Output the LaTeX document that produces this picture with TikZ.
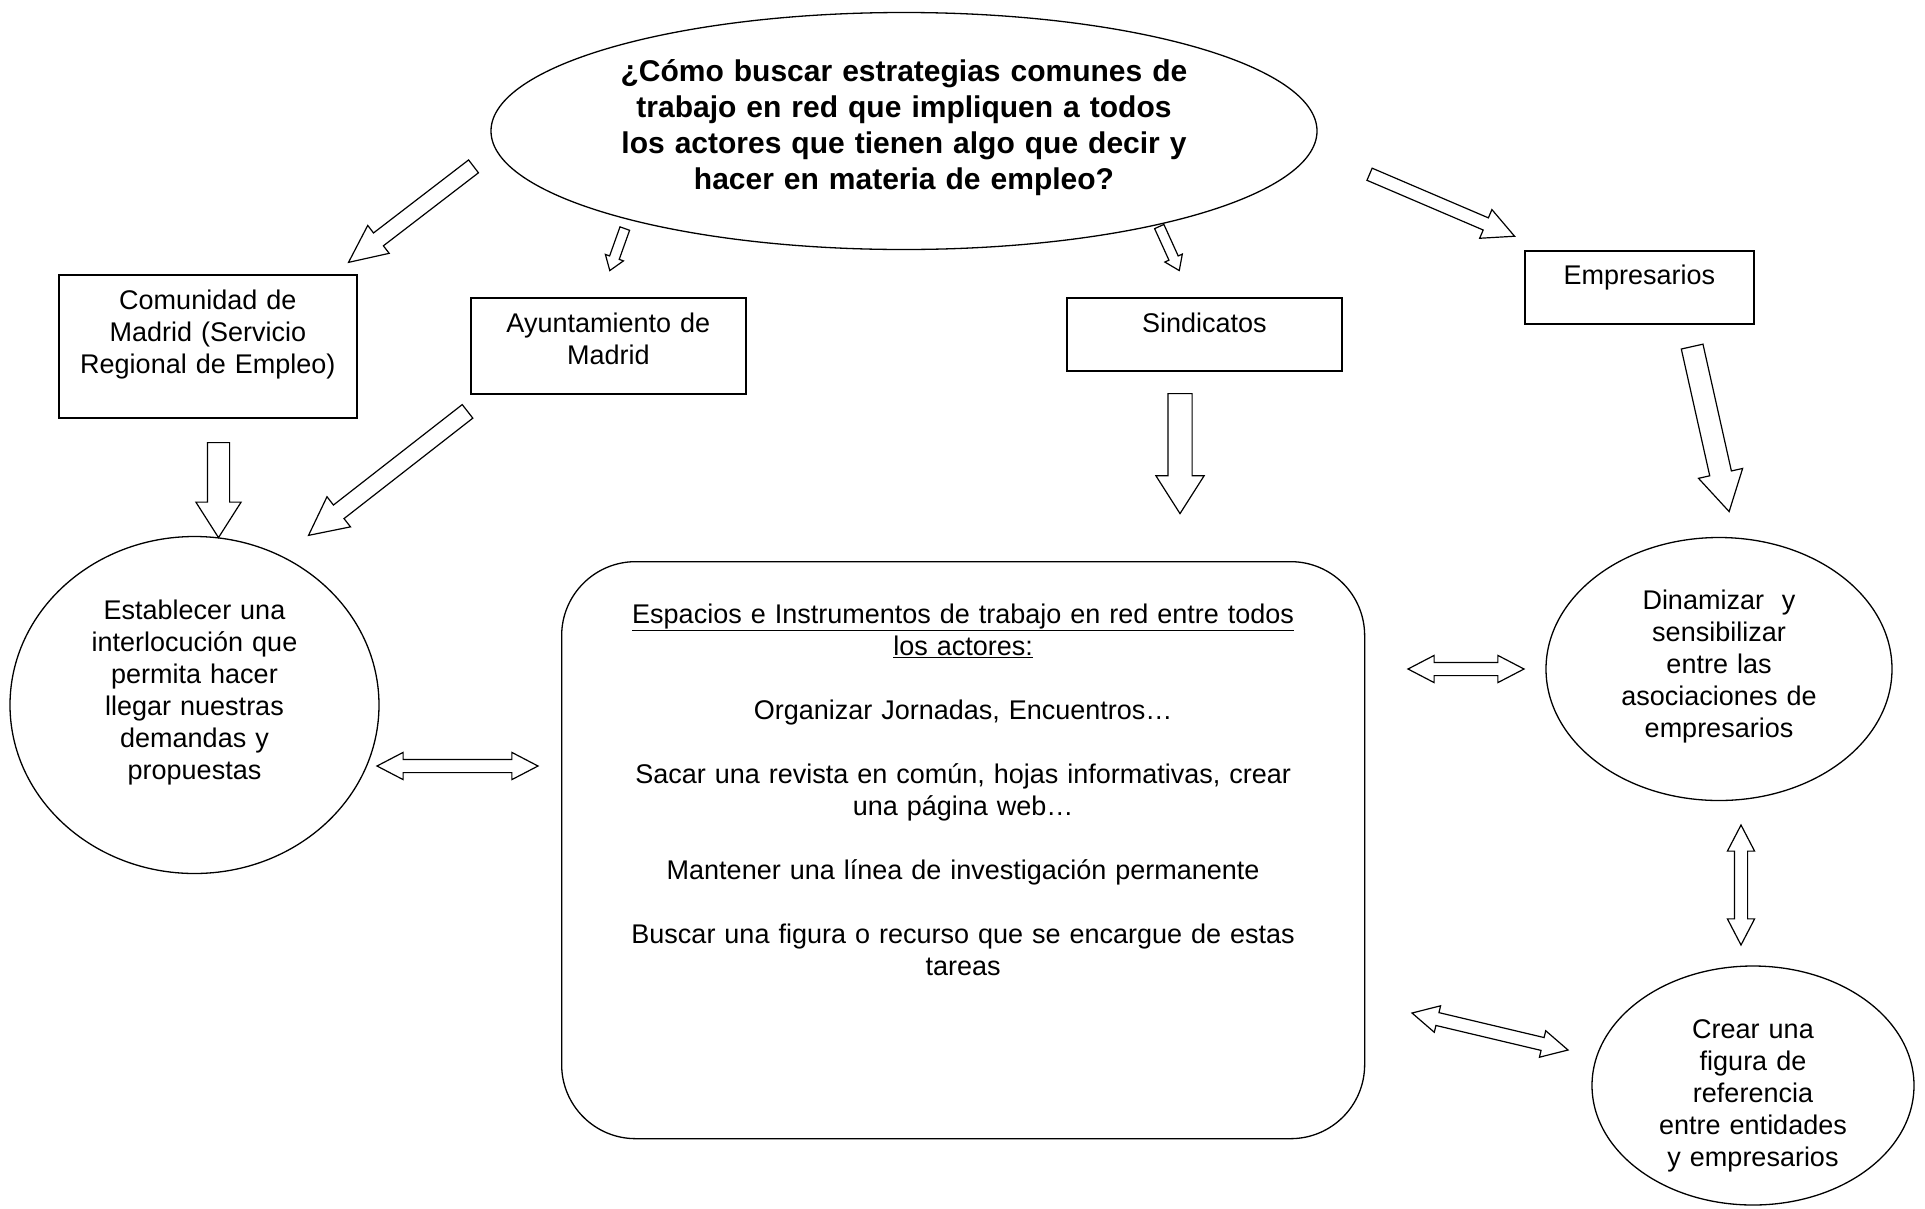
\documentclass[tikz,border=0pt]{standalone}
\usepackage{fontspec}
\setmainfont{Liberation Sans}
\usetikzlibrary{shapes.geometric,shapes.arrows,calc}

\newcommand{\texto}{\fontsize{27}{32}\selectfont}
\newcommand{\titulo}{\fontsize{30}{36}\selectfont\bfseries}

\tikzstyle{mapa}=[
    x=1pt, y=-1pt,
    actor/.style={rectangle, draw, line width=1.6pt, anchor=north west, inner sep=0pt, align=center, font=\texto},
    idea/.style={ellipse, draw, line width=1.3pt, inner sep=0pt, align=center, font=\texto},
    espacio/.style={actor, rounded corners=74pt, line width=1.3pt},
    flecha/.style 2 args={single arrow, draw, line width=1.2pt, inner xsep=0pt, inner ysep=##1/2,
        minimum width=##2, single arrow head extend={(##2-##1)/2}, single arrow tip angle=60},
    doble/.style={double arrow, draw, line width=1.2pt, inner xsep=0pt, inner ysep=6pt,
        minimum width=26pt, double arrow head extend=7pt, double arrow tip angle=55},
]

% block arrow from tail to tip
\newcommand{\flecha}[4][]{
    \path let \p1=(#3), \p2=(#4) in
        node[#1, anchor=tail, rotate={atan2(\y2-\y1,\x2-\x1)},
             minimum height={veclen(\x2-\x1,\y2-\y1)}] (#2) at (\p1) {};
}
% block arrow with two heads
\newcommand{\doble}[4][]{
    \path let \p1=(#3), \p2=(#4) in
        node[doble, #1, rotate={atan2(\y2-\y1,\x2-\x1)},
             minimum height={veclen(\x2-\x1,\y2-\y1)}] (#2) at ($(\p1)!0.5!(\p2)$) {};
}

\begin{document}
\begin{tikzpicture}[mapa]
    \useasboundingbox (0,0) rectangle (1925,1208);

    \node[idea, font=\titulo, minimum width=826pt, minimum height=237pt, text width=570pt, text height=22pt, text depth=122pt] (pregunta) at (904,131)
        {¿Cómo buscar estrategias comunes de\\trabajo en red que impliquen a todos\\los actores que tienen algo que decir y\\hacer en materia de empleo?};

    \node[actor, text width=298pt, text height=35pt, text depth=108pt] (comunidad) at (58,274) {Comunidad de\\Madrid (Servicio\\Regional de Empleo)};
    \node[actor, text width=275pt, text height=35pt, text depth=61pt] (ayuntamiento) at (470,297) {Ayuntamiento de\\Madrid};
    \node[actor, text width=275pt, text height=35pt, text depth=38pt] (sindicatos) at (1066,297) {Sindicatos};
    \node[actor, text width=229pt, text height=34pt, text depth=39pt] (empresarios) at (1524,250) {Empresarios};

    \node[idea, minimum width=369pt, minimum height=337pt, text width=215pt, text height=19pt, text depth=191pt] (establecer) at (194.5,705)
        {Establecer una\\interlocución que\\permita hacer\\llegar nuestras\\demandas y\\propuestas};
    \node[espacio, text width=803pt, text height=62pt, text depth=515pt] (espacios) at (561,561)
        {\underline{Espacios e Instrumentos de trabajo en red entre todos}\\
         \underline{los actores:}\\[32pt]
         Organizar Jornadas, Encuentros…\\[32pt]
         Sacar una revista en común, hojas informativas, crear\\
         una página web…\\[32pt]
         Mantener una línea de investigación permanente\\[32pt]
         Buscar una figura o recurso que se encargue de estas\\
         tareas};
    \node[idea, minimum width=346pt, minimum height=263pt, text width=215pt, text height=19pt, text depth=139pt] (dinamizar) at (1719,669)
        {Dinamizar\ \ y\\sensibilizar\\entre las\\asociaciones de\\empresarios};
    \node[idea, minimum width=322pt, minimum height=239pt, text width=205pt, text height=19pt, text depth=114pt] (crear) at (1753,1085.5)
        {Crear una\\figura de\\referencia\\entre entidades\\y empresarios};

    \foreach \n/\x/\y in {f1a/474/166, f1b/349/262, f2a/625/228, f2b/610/270,
                          f3a/1159/226, f3b/1179/270, f4a/1369/174, f4b/1514/236,
                          f5a/218.5/442, f5b/218.5/537, f6a/468/411, f6b/309/535,
                          f7a/1180/393, f7b/1180/513, f8a/1692/346, f8b/1729/511,
                          d1a/377/766, d1b/538/766, d2a/1408/669, d2b/1524/669,
                          d3a/1741/825, d3b/1741/945, d4a/1412/1013, d4b/1568/1050}
        \coordinate (\n) at (\x,\y);

    \flecha[flecha={15pt}{34pt}, single arrow tip angle=50]{f1}{f1a}{f1b}
    \flecha[flecha={9pt}{18pt}, single arrow tip angle=70]{f2}{f2a}{f2b}
    \flecha[flecha={9pt}{18pt}, single arrow tip angle=70]{f3}{f3a}{f3b}
    \flecha[flecha={12pt}{30pt}, single arrow tip angle=53]{f4}{f4a}{f4b}
    \flecha[flecha={21pt}{44pt}, single arrow tip angle=65]{f5}{f5a}{f5b}
    \flecha[flecha={16pt}{37pt}, single arrow tip angle=53]{f6}{f6a}{f6b}
    \flecha[flecha={23pt}{47pt}, single arrow tip angle=65]{f7}{f7a}{f7b}
    \flecha[flecha={21pt}{44pt}]{f8}{f8a}{f8b}

    \doble{d1}{d1a}{d1b}
    \doble{d2}{d2a}{d2b}
    \doble{d3}{d3a}{d3b}
    \doble{d4}{d4a}{d4b}
\end{tikzpicture}
\end{document}
